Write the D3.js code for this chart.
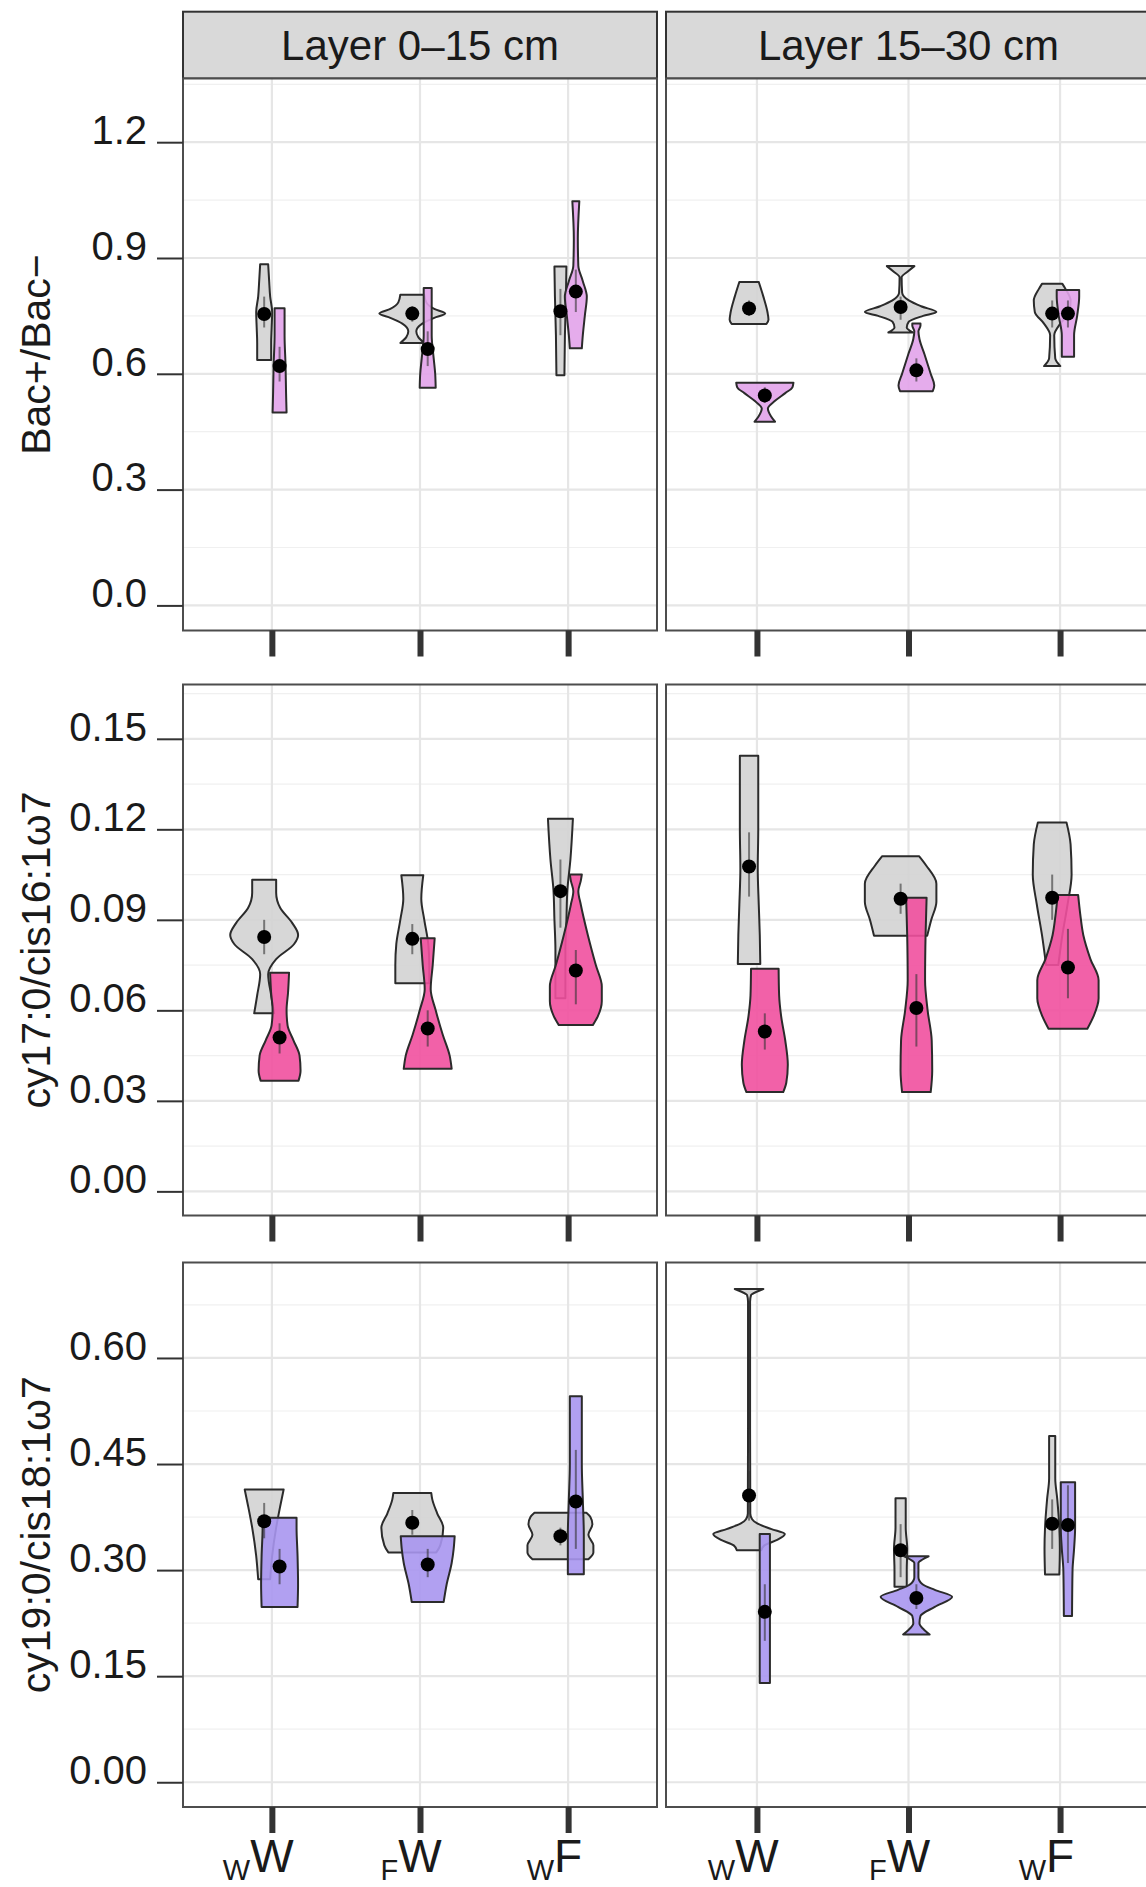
<!DOCTYPE html>
<html>
<head>
<meta charset="utf-8">
<script src="https://cdnjs.cloudflare.com/ajax/libs/d3/7.8.5/d3.min.js"></script>
<style>
  body { margin: 0; background: #fff; }
  text { font-family: "Liberation Sans", Arial, Helvetica, sans-serif; fill: #1a1a1a; }
</style>
</head>
<body>
<div id="chart"></div>
<script>
// categories and axis settings
var groups = ["wW", "fW", "wF"];
var groupMain = ["W", "W", "F"];
var groupSub = ["W", "F", "W"];
var layers = ["Layer 0\u201315 cm", "Layer 15\u201330 cm"];
var variables = ["Bac+/Bac\u2212", "cy17:0/cis16:1\u03c97", "cy19:0/cis18:1\u03c97"];
var yTicks = [[0, 0.3, 0.6, 0.9, 1.2], [0, 0.03, 0.06, 0.09, 0.12, 0.15], [0, 0.15, 0.3, 0.45, 0.6]];
var yExtent = [[0, 1.3], [0, 0.16], [0, 0.70]];
var tickFormats = [".1f", ".2f", ".2f"];

// violins: layer, group, treatment, mean, error bar (lo, hi), density profile [value, density]
var bacViolins = [
    { layer: 0, group: "wW", trt: "ctrl", mean: 0.755, lo: 0.72, hi: 0.80, dens: [[0.636, 7], [0.68, 7], [0.72, 7.5], [0.76, 8], [0.80, 6], [0.84, 5], [0.884, 4]] },
    { layer: 0, group: "wW", trt: "bac", mean: 0.62, lo: 0.58, hi: 0.67, dens: [[0.50, 7], [0.55, 6.5], [0.62, 6], [0.70, 5], [0.77, 5]] },
    { layer: 0, group: "fW", trt: "ctrl", mean: 0.756, lo: 0.735, hi: 0.775, dens: [[0.68, 12], [0.695, 6], [0.71, 4], [0.73, 10], [0.745, 22], [0.756, 33], [0.768, 22], [0.785, 14], [0.805, 12]] },
    { layer: 0, group: "fW", trt: "bac", mean: 0.664, lo: 0.62, hi: 0.71, dens: [[0.564, 8], [0.60, 7.5], [0.64, 6], [0.70, 4], [0.76, 4], [0.822, 4]] },
    { layer: 0, group: "wF", trt: "ctrl", mean: 0.762, lo: 0.70, hi: 0.82, dens: [[0.596, 4], [0.70, 4.5], [0.80, 5.5], [0.878, 6]] },
    { layer: 0, group: "wF", trt: "bac", mean: 0.813, lo: 0.76, hi: 0.87, dens: [[0.666, 6], [0.70, 7], [0.75, 9], [0.80, 11], [0.84, 7], [0.88, 2.5], [0.95, 2], [1.047, 3.5]] },
    { layer: 1, group: "wW", trt: "ctrl", mean: 0.769, lo: 0.75, hi: 0.79, dens: [[0.729, 17], [0.74, 19], [0.76, 18], [0.80, 14], [0.838, 9.5]] },
    { layer: 1, group: "wW", trt: "bac", mean: 0.544, lo: 0.525, hi: 0.565, dens: [[0.476, 10], [0.49, 6], [0.51, 3], [0.53, 10], [0.55, 20], [0.565, 27], [0.577, 28]] },
    { layer: 1, group: "fW", trt: "ctrl", mean: 0.773, lo: 0.74, hi: 0.80, dens: [[0.707, 12], [0.72, 6], [0.735, 8], [0.75, 22], [0.76, 35], [0.775, 20], [0.79, 8], [0.81, 1.5], [0.85, 1], [0.865, 7], [0.879, 13.5]] },
    { layer: 1, group: "fW", trt: "bac", mean: 0.609, lo: 0.58, hi: 0.64, dens: [[0.555, 16], [0.57, 17.5], [0.60, 14], [0.65, 8], [0.69, 3], [0.71, 2], [0.725, 4], [0.73, 4]] },
    { layer: 1, group: "wF", trt: "ctrl", mean: 0.756, lo: 0.72, hi: 0.79, dens: [[0.620, 8], [0.64, 3], [0.70, 2], [0.73, 8], [0.76, 17], [0.79, 18], [0.82, 13], [0.833, 10]] },
    { layer: 1, group: "wF", trt: "bac", mean: 0.756, lo: 0.72, hi: 0.79, dens: [[0.644, 6], [0.70, 6], [0.75, 9], [0.80, 11], [0.817, 11]] }
];

var cy17Violins = [
    { layer: 0, group: "wW", trt: "ctrl", mean: 0.0843, lo: 0.0786, hi: 0.090, dens: [[0.059, 10], [0.065, 7], [0.072, 4], [0.077, 12], [0.082, 30], [0.085, 34], [0.089, 28], [0.094, 16], [0.099, 12], [0.1033, 12]] },
    { layer: 0, group: "wW", trt: "bac", mean: 0.051, lo: 0.0457, hi: 0.0557, dens: [[0.0367, 19], [0.040, 21], [0.045, 20], [0.050, 14], [0.055, 8], [0.060, 7], [0.066, 8.5], [0.0725, 9.5]] },
    { layer: 0, group: "fW", trt: "ctrl", mean: 0.0837, lo: 0.0786, hi: 0.0886, dens: [[0.069, 17], [0.075, 17], [0.082, 16], [0.090, 12], [0.097, 9], [0.1048, 11]] },
    { layer: 0, group: "fW", trt: "bac", mean: 0.054, lo: 0.048, hi: 0.060, dens: [[0.0406, 24], [0.045, 22], [0.052, 15], [0.060, 8], [0.067, 3], [0.075, 5], [0.0839, 7]] },
    { layer: 0, group: "wF", trt: "ctrl", mean: 0.0995, lo: 0.0874, hi: 0.110, dens: [[0.064, 5], [0.08, 5], [0.09, 6], [0.10, 7], [0.11, 10], [0.1235, 12.5]] },
    { layer: 0, group: "wF", trt: "bac", mean: 0.0732, lo: 0.062, hi: 0.080, dens: [[0.0551, 17], [0.058, 22], [0.063, 26], [0.068, 26], [0.075, 20], [0.085, 12], [0.095, 5], [0.0995, 2.5], [0.103, 5], [0.105, 6]] },
    { layer: 1, group: "wW", trt: "ctrl", mean: 0.1077, lo: 0.0977, hi: 0.119, dens: [[0.0754, 11], [0.085, 10.5], [0.095, 9.5], [0.107, 8.5], [0.12, 9], [0.1444, 9]] },
    { layer: 1, group: "wW", trt: "bac", mean: 0.053, lo: 0.047, hi: 0.059, dens: [[0.0329, 18], [0.036, 21], [0.042, 22.5], [0.05, 20], [0.058, 16], [0.065, 14], [0.0738, 13.5]] },
    { layer: 1, group: "fW", trt: "ctrl", mean: 0.097, lo: 0.092, hi: 0.102, dens: [[0.0847, 26], [0.090, 30], [0.096, 35], [0.102, 35], [0.108, 25], [0.1111, 18]] },
    { layer: 1, group: "fW", trt: "bac", mean: 0.0608, lo: 0.048, hi: 0.072, dens: [[0.0329, 14], [0.040, 15.5], [0.050, 15], [0.060, 11], [0.070, 8.5], [0.085, 9], [0.0973, 10]] },
    { layer: 1, group: "wF", trt: "ctrl", mean: 0.0973, lo: 0.090, hi: 0.105, dens: [[0.075, 6], [0.085, 10], [0.095, 15], [0.105, 19], [0.115, 18], [0.1223, 14]] },
    { layer: 1, group: "wF", trt: "bac", mean: 0.0742, lo: 0.064, hi: 0.087, dens: [[0.0539, 19], [0.058, 25], [0.064, 30], [0.070, 30], [0.077, 22], [0.085, 15], [0.092, 12], [0.0982, 10]] }
];

var cy19Violins = [
    { layer: 0, group: "wW", trt: "ctrl", mean: 0.369, lo: 0.345, hi: 0.395, dens: [[0.287, 6], [0.32, 8], [0.36, 12], [0.39, 16], [0.414, 19.5]] },
    { layer: 0, group: "wW", trt: "bac", mean: 0.305, lo: 0.28, hi: 0.33, dens: [[0.248, 18], [0.28, 18.5], [0.32, 18], [0.36, 17], [0.374, 17]] },
    { layer: 0, group: "fW", trt: "ctrl", mean: 0.367, lo: 0.35, hi: 0.385, dens: [[0.325, 24], [0.335, 28], [0.36, 31], [0.38, 25], [0.40, 20], [0.409, 19]] },
    { layer: 0, group: "fW", trt: "bac", mean: 0.308, lo: 0.29, hi: 0.33, dens: [[0.255, 16], [0.28, 19], [0.31, 24], [0.33, 26], [0.348, 27]] },
    { layer: 0, group: "wF", trt: "ctrl", mean: 0.348, lo: 0.335, hi: 0.36, dens: [[0.3155, 28], [0.325, 33], [0.335, 33], [0.35, 28], [0.365, 32], [0.375, 30], [0.381, 26]] },
    { layer: 0, group: "wF", trt: "bac", mean: 0.397, lo: 0.33, hi: 0.47, dens: [[0.294, 8], [0.35, 8], [0.40, 7], [0.45, 6], [0.5457, 6]] },
    { layer: 1, group: "wW", trt: "ctrl", mean: 0.4055, lo: 0.37, hi: 0.44, dens: [[0.328, 12], [0.335, 15], [0.343, 28], [0.351, 35], [0.358, 22], [0.366, 8], [0.372, 3], [0.38, 1.2], [0.50, 1], [0.68, 1], [0.689, 2], [0.694, 8], [0.6976, 14]] },
    { layer: 1, group: "wW", trt: "bac", mean: 0.241, lo: 0.20, hi: 0.28, dens: [[0.1403, 5], [0.2, 5], [0.3, 5], [0.351, 5]] },
    { layer: 1, group: "fW", trt: "ctrl", mean: 0.328, lo: 0.29, hi: 0.365, dens: [[0.2766, 6], [0.30, 6], [0.33, 6.5], [0.36, 5], [0.38, 5], [0.4015, 5]] },
    { layer: 1, group: "fW", trt: "bac", mean: 0.2605, lo: 0.245, hi: 0.28, dens: [[0.209, 13], [0.215, 8], [0.225, 3], [0.235, 4], [0.248, 18], [0.2624, 35], [0.272, 18], [0.28, 6], [0.29, 2], [0.31, 2], [0.315, 6], [0.3196, 12]] },
    { layer: 1, group: "wF", trt: "ctrl", mean: 0.3655, lo: 0.33, hi: 0.40, dens: [[0.2938, 7], [0.33, 7.5], [0.36, 7], [0.40, 5], [0.43, 3], [0.4898, 3]] },
    { layer: 1, group: "wF", trt: "bac", mean: 0.3637, lo: 0.31, hi: 0.42, dens: [[0.235, 4], [0.30, 4.5], [0.33, 6], [0.36, 7], [0.40, 7], [0.4244, 7]] }
];

var allViolins = [bacViolins, cy17Violins, cy19Violins];

// layout (the right column runs past the edge of the picture)
var colLeft = [183, 666], colWidth = [474, 485];
var rowTop = [78.5, 684.5, 1262.5], rowHeight = [552, 531, 544.5];
var stripTop = 11.7, stripHeight = 66.8;
var trtColor = { ctrl: "#d3d3d3" };
var bacColor = ["#e2a3ea", "#f1509f", "#a996ef"];

var svg = d3.select("#chart")
    .append("svg")
    .attr("width", 1146)
    .attr("height", 1887);

// strips on top
layers.forEach(function (name, c) {
    var s = svg.append("g").attr("transform", "translate(" + colLeft[c] + "," + stripTop + ")");
    s.append("rect")
        .attr("width", colWidth[c]).attr("height", stripHeight)
        .attr("fill", "#d9d9d9").attr("stroke", "#333").attr("stroke-width", 2);
    s.append("text")
        .attr("x", colWidth[c] / 2).attr("y", stripHeight / 2)
        .attr("dy", "0.36em")
        .attr("text-anchor", "middle")
        .attr("font-size", "42px")
        .text(name);
});

variables.forEach(function (varName, r) {
    var ext = yExtent[r];
    var pad = (ext[1] - ext[0]) * 0.05;
    var h = rowHeight[r];
    var y = d3.scaleLinear().domain([ext[0] - pad, ext[1] + pad]).range([h, 0]);
    var ticks = yTicks[r];
    var step = ticks[1] - ticks[0];
    var minor = [];
    for (var i = 0; i <= ticks.length; i++) {
        var m = ext[0] + step * (i + 0.5);
        if (m <= ext[1] + pad) minor.push(m);
    }

    // y title
    svg.append("text")
        .attr("transform", "translate(50," + (rowTop[r] + h / 2) + ") rotate(-90)")
        .attr("text-anchor", "middle")
        .attr("font-size", "41px")
        .text(varName);

    layers.forEach(function (layerName, c) {
        var w = colWidth[c];
        var x = d3.scalePoint().domain(groups).range([0, w]).padding(0.6);
        var unit = x.step();
        var dodge = 0.052 * unit;
        var wScale = d3.scaleLinear().domain([0, 35]).range([0, 0.236 * unit]);

        var g = svg.append("g")
            .attr("transform", "translate(" + colLeft[c] + "," + rowTop[r] + ")");

        g.append("rect").attr("width", w).attr("height", h).attr("fill", "#fff");

        // grid
        g.selectAll(".minor").data(minor).enter().append("line")
            .attr("x1", 0).attr("x2", w)
            .attr("y1", function (d) { return y(d); }).attr("y2", function (d) { return y(d); })
            .attr("stroke", "#f0f0f0").attr("stroke-width", 1.2);
        g.selectAll(".major").data(ticks).enter().append("line")
            .attr("x1", 0).attr("x2", w)
            .attr("y1", function (d) { return y(d); }).attr("y2", function (d) { return y(d); })
            .attr("stroke", "#e6e6e6").attr("stroke-width", 2.2);
        g.selectAll(".vmajor").data(groups).enter().append("line")
            .attr("x1", function (d) { return x(d); }).attr("x2", function (d) { return x(d); })
            .attr("y1", 0).attr("y2", h)
            .attr("stroke", "#e6e6e6").attr("stroke-width", 2.2);

        var data = allViolins[r].filter(function (d) { return d.layer === c; });
        function cx(d) { return x(d.group) + (d.trt === "ctrl" ? -dodge : dodge); }

        // violins, control first so the treatment sits above it
        data.slice().sort(function (a, b) { return (a.trt === "ctrl" ? 0 : 1) - (b.trt === "ctrl" ? 0 : 1); })
            .forEach(function (d) {
                var xc = cx(d);
                var area = d3.area()
                    .curve(d3.curveMonotoneY)
                    .y(function (p) { return y(p[0]); })
                    .x0(function (p) { return xc - wScale(p[1]); })
                    .x1(function (p) { return xc + wScale(p[1]); });
                g.append("path")
                    .attr("d", area(d.dens))
                    .attr("fill", d.trt === "ctrl" ? trtColor.ctrl : bacColor[r])
                    .attr("fill-opacity", 0.9)
                    .attr("stroke", "#2b2b2b")
                    .attr("stroke-width", 2)
                    .attr("stroke-linejoin", "round");
            });

        // error bars and means
        g.selectAll(".err").data(data).enter().append("line")
            .attr("x1", cx).attr("x2", cx)
            .attr("y1", function (d) { return y(d.lo); })
            .attr("y2", function (d) { return y(d.hi); })
            .attr("stroke", "#333").attr("stroke-opacity", 0.6).attr("stroke-width", 2);
        g.selectAll(".dot").data(data).enter().append("circle")
            .attr("cx", cx)
            .attr("cy", function (d) { return y(d.mean); })
            .attr("r", 7)
            .attr("fill", "#000");

        g.append("rect").attr("width", w).attr("height", h)
            .attr("fill", "none").attr("stroke", "#4d4d4d").attr("stroke-width", 2);

        // y axis on the left column only
        if (c === 0) {
            var yAxis = g.append("g")
                .call(d3.axisLeft(y).tickValues(ticks).tickSize(26).tickPadding(10).tickFormat(d3.format(tickFormats[r])));
            yAxis.select(".domain").remove();
            yAxis.selectAll("line").attr("stroke", "#333").attr("stroke-width", 2);
            yAxis.selectAll("text")
                .attr("dy", "0.03em")
                .attr("font-size", "40px")
                .attr("font-family", "Liberation Sans, Arial, sans-serif")
                .attr("fill", "#1a1a1a");
        }

        // x axis ticks
        var xAxis = g.append("g")
            .attr("transform", "translate(0," + h + ")")
            .call(d3.axisBottom(x).tickSize(26).tickFormat(""));
        xAxis.select(".domain").remove();
        xAxis.selectAll("line").attr("stroke", "#333").attr("stroke-width", 6);

        // x labels with subscript on the bottom row
        if (r === variables.length - 1) {
            groups.forEach(function (gr, k) {
                var big = g.append("text")
                    .attr("x", x(gr)).attr("y", h + 65)
                    .attr("text-anchor", "middle")
                    .attr("font-size", "46px")
                    .text(groupMain[k]);
                var half = big.node().getComputedTextLength() / 2;
                g.append("text")
                    .attr("x", x(gr) - half).attr("y", h + 73)
                    .attr("text-anchor", "end")
                    .attr("font-size", "29px")
                    .text(groupSub[k]);
            });
        }
    });
});
</script>
</body>
</html>
